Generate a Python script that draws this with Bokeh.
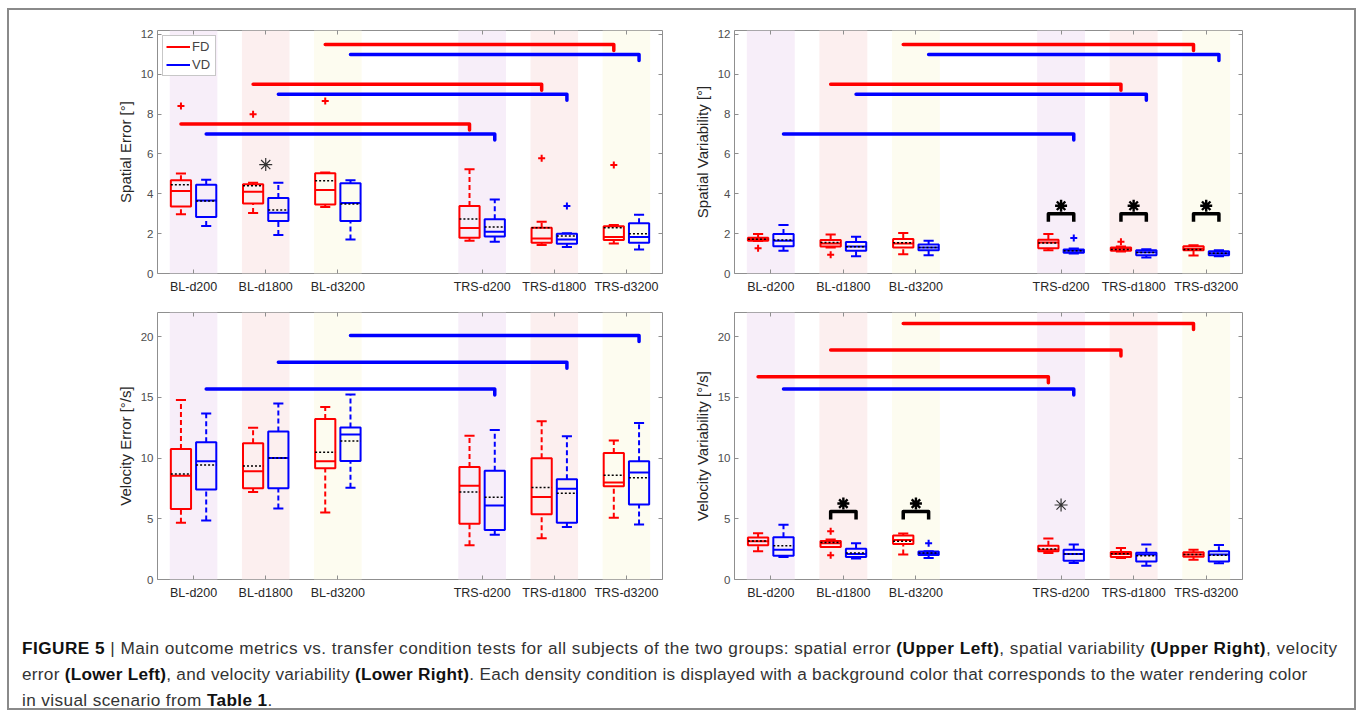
from bokeh.plotting import figure
from bokeh.models import (Range1d, FixedTicker, LinearAxis, Legend, LegendItem, Div)
from bokeh.layouts import row, column
from bokeh.embed import file_html
from bokeh.resources import INLINE

# ---------------- data ----------------
conditions = ["BL-d200", "BL-d1800", "BL-d3200", "TRS-d200", "TRS-d1800", "TRS-d3200"]
groups = ["FD", "VD"]

# per condition: (whisker_low, q1, median, q3, whisker_high, mean)
se_fd = [(2.97, 3.36, 4.14, 4.68, 5.02, 4.46), (3.04, 3.51, 4.11, 4.48, 4.56, 4.41),
         (3.34, 3.47, 4.19, 5.03, 5.07, 4.66), (1.64, 1.80, 2.28, 3.39, 5.23, 2.73),
         (1.43, 1.54, 1.76, 2.30, 2.60, 2.30), (1.51, 1.68, 1.83, 2.37, 2.43, 2.30)]
se_vd = [(2.38, 2.84, 3.67, 4.45, 4.71, 3.64), (1.93, 2.63, 3.05, 3.79, 4.55, 3.19),
         (1.71, 2.63, 3.54, 4.53, 4.68, 3.49), (1.59, 1.86, 2.10, 2.72, 3.72, 2.33),
         (1.33, 1.49, 1.71, 2.00, 2.02, 1.88), (1.21, 1.54, 1.83, 2.52, 2.95, 2.00)]
se_fd_out = [("BL-d200", 8.41), ("BL-d1800", 7.99), ("BL-d3200", 8.66),
             ("TRS-d1800", 5.79), ("TRS-d3200", 5.45)]
se_vd_out = [("TRS-d1800", 3.39)]
se_links = [("BL-d200", "TRS-d200", "FD", 7.5), ("BL-d200", "TRS-d200", "VD", 7.0),
            ("BL-d1800", "TRS-d1800", "FD", 9.5), ("BL-d1800", "TRS-d1800", "VD", 9.0),
            ("BL-d3200", "TRS-d3200", "FD", 11.5), ("BL-d3200", "TRS-d3200", "VD", 11.0)]
se_sig = []
se_star = [("BL-d1800", 5.47)]

sv_fd = [(1.63, 1.65, 1.72, 1.80, 1.98, 1.72), (1.31, 1.36, 1.51, 1.68, 1.96, 1.56),
         (0.97, 1.31, 1.51, 1.73, 2.03, 1.54), (1.17, 1.27, 1.56, 1.69, 1.98, 1.53),
         (1.11, 1.14, 1.24, 1.31, 1.36, 1.21), (0.90, 1.17, 1.24, 1.37, 1.42, 1.21)]
sv_vd = [(1.14, 1.37, 1.64, 1.98, 2.43, 1.68), (0.87, 1.14, 1.36, 1.58, 1.84, 1.34),
         (0.92, 1.17, 1.31, 1.46, 1.64, 1.31), (1.00, 1.04, 1.14, 1.21, 1.26, 1.14),
         (0.80, 0.92, 1.07, 1.17, 1.22, 1.06), (0.87, 0.92, 1.02, 1.12, 1.17, 1.02)]
sv_fd_out = [("BL-d200", 1.27), ("BL-d1800", 0.94), ("TRS-d1800", 1.59)]
sv_vd_out = [("TRS-d200", 1.78)]
sv_links = [("BL-d200", "TRS-d200", "VD", 7.0),
            ("BL-d1800", "TRS-d1800", "FD", 9.5), ("BL-d1800", "TRS-d1800", "VD", 9.0),
            ("BL-d3200", "TRS-d3200", "FD", 11.5), ("BL-d3200", "TRS-d3200", "VD", 11.0)]
sv_sig = [("TRS-d200", 3.0), ("TRS-d1800", 3.0), ("TRS-d3200", 3.0)]
sv_star = []

ve_fd = [(4.67, 5.81, 8.55, 10.76, 14.80, 8.69), (7.22, 7.52, 8.91, 11.23, 12.50, 9.35),
         (5.53, 9.16, 9.74, 13.22, 14.22, 10.48), (2.82, 4.59, 7.72, 9.27, 11.84, 7.22),
         (3.40, 5.37, 6.80, 9.99, 13.03, 7.58), (5.09, 7.69, 7.99, 10.43, 11.45, 8.60)]
ve_vd = [(4.87, 7.41, 9.74, 11.31, 13.67, 9.43), (5.86, 7.52, 10.01, 12.20, 14.50, 10.01),
         (7.55, 9.76, 11.95, 12.53, 15.24, 11.42), (3.68, 4.07, 6.09, 8.96, 12.31, 6.78),
         (4.32, 4.67, 7.47, 8.27, 11.81, 7.11), (4.54, 6.17, 8.82, 9.74, 12.89, 8.38)]
ve_fd_out = []
ve_vd_out = []
ve_links = [("BL-d200", "TRS-d200", "VD", 15.7), ("BL-d1800", "TRS-d1800", "VD", 17.9),
            ("BL-d3200", "TRS-d3200", "VD", 20.1)]
ve_sig = []
ve_star = []

vv_fd = [(2.32, 2.82, 3.15, 3.46, 3.82, 3.18), (2.68, 2.68, 2.99, 3.18, 3.29, 3.04),
         (2.05, 2.93, 3.26, 3.62, 3.79, 3.15), (2.19, 2.32, 2.46, 2.79, 3.37, 2.52),
         (1.77, 1.85, 2.10, 2.27, 2.60, 2.13), (1.63, 1.88, 2.07, 2.24, 2.46, 2.07)]
vv_vd = [(1.85, 1.96, 2.46, 3.49, 4.51, 2.79), (1.74, 1.85, 2.10, 2.54, 2.99, 2.19),
         (1.77, 2.02, 2.16, 2.30, 2.32, 2.19), (1.36, 1.55, 2.10, 2.46, 2.88, 2.10),
         (1.13, 1.49, 2.05, 2.21, 2.88, 1.96), (1.33, 1.49, 2.05, 2.32, 2.85, 1.99)]
vv_fd_out = [("BL-d1800", 3.98), ("BL-d1800", 1.99)]
vv_vd_out = [("BL-d3200", 2.99)]
vv_links = [("BL-d200", "TRS-d200", "FD", 16.7), ("BL-d200", "TRS-d200", "VD", 15.7),
            ("BL-d1800", "TRS-d1800", "FD", 18.9), ("BL-d3200", "TRS-d3200", "FD", 21.1)]
vv_sig = [("BL-d1800", 5.6), ("BL-d3200", 5.6)]
vv_star = [("TRS-d200", 6.14)]

# ---------------- styling ----------------
COL = {"FD": "#ff0000", "VD": "#0000ff"}
OFF = {"FD": -0.175, "VD": 0.175}
BOXW = 0.28
BAND = ["#f7eef9", "#fcefef", "#fdfcf0"]
FONT = "Liberation Sans"
XPOS = {c: i + 1 + (1 if i >= 3 else 0) for i, c in enumerate(conditions)}


def make_panel(ylabel, ymax, yticks, stats, outs, links, sig, stars, legend,
               mbl, fw, mbr, mbt, fh, mbb):
    p = figure(frame_width=fw, frame_height=fh, x_range=Range1d(0.5, 7.5),
               y_range=Range1d(0, ymax), output_backend="svg", toolbar_location=None,
               min_border_left=mbl, min_border_right=mbr, min_border_top=mbt,
               min_border_bottom=mbb)
    p.grid.visible = False
    p.outline_line_color = "#8f8f8f"
    p.outline_line_width = 1
    p.background_fill_color = "white"
    p.border_fill_color = "white"
    xs = [XPOS[c] for c in conditions]
    px_per_y = fh / ymax

    # background bands per density condition
    p.vbar(x=xs, width=0.66, top=ymax, bottom=0,
           fill_color=[BAND[i % 3] for i in range(len(xs))], line_color=None)

    # axes
    for ax in (p.xaxis[0], p.yaxis[0]):
        ax.axis_line_color = None
        ax.major_tick_in = 4
        ax.major_tick_out = 0
        ax.minor_tick_line_color = None
        ax.major_tick_line_color = "#8f8f8f"
        ax.major_label_text_font = FONT
    p.xaxis.ticker = FixedTicker(ticks=xs)
    p.xaxis.major_label_overrides = {x: c for x, c in zip(xs, conditions)}
    p.xaxis.major_label_text_font_size = "12.5px"
    p.xaxis.major_label_text_color = "#262626"
    p.xaxis.major_label_standoff = 6
    p.yaxis.ticker = FixedTicker(ticks=yticks)
    p.yaxis.major_label_text_font_size = "11.5px"
    p.yaxis.major_label_text_color = "#4d4d4d"
    p.yaxis.major_label_standoff = 4
    p.yaxis.axis_label = ylabel
    p.yaxis.axis_label_text_font = FONT
    p.yaxis.axis_label_text_font_style = "normal"
    p.yaxis.axis_label_text_font_size = "15px"
    p.yaxis.axis_label_text_color = "#262626"
    p.yaxis.axis_label_standoff = 4

    top_ax = LinearAxis(ticker=FixedTicker(ticks=xs), major_label_text_font_size="0px",
                        axis_line_color=None, major_tick_in=4, major_tick_out=0,
                        major_tick_line_color="#8f8f8f", minor_tick_line_color=None,
                        major_label_standoff=0)
    right_ax = LinearAxis(ticker=FixedTicker(ticks=yticks), major_label_text_font_size="0px",
                          axis_line_color=None, major_tick_in=4, major_tick_out=0,
                          major_tick_line_color="#8f8f8f", minor_tick_line_color=None,
                          major_label_standoff=0)
    p.add_layout(top_ax, "above")
    p.add_layout(right_ax, "right")

    med_renderers = {}
    for g, st in zip(groups, stats):
        c = COL[g]
        x = [XPOS[cn] + OFF[g] for cn in conditions]
        lo = [s[0] for s in st]
        q1 = [s[1] for s in st]
        md = [s[2] for s in st]
        q3 = [s[3] for s in st]
        hi = [s[4] for s in st]
        mn = [s[5] for s in st]
        # whiskers (dashed)
        p.segment(x0=x, x1=x, y0=q3, y1=hi, line_color=c, line_width=2, line_dash="5 3")
        p.segment(x0=x, x1=x, y0=lo, y1=q1, line_color=c, line_width=2, line_dash="5 3")
        # caps
        p.segment(x0=[v - BOXW / 4 for v in x], x1=[v + BOXW / 4 for v in x], y0=hi, y1=hi,
                  line_color=c, line_width=2)
        p.segment(x0=[v - BOXW / 4 for v in x], x1=[v + BOXW / 4 for v in x], y0=lo, y1=lo,
                  line_color=c, line_width=2)
        # box
        p.vbar(x=x, width=BOXW, bottom=q1, top=q3, fill_color=None, line_color=c,
               line_width=2)
        # median
        r = p.segment(x0=[v - BOXW / 2 for v in x], x1=[v + BOXW / 2 for v in x], y0=md,
                      y1=md, line_color=c, line_width=2)
        med_renderers[g] = r
        # mean
        p.segment(x0=[v - BOXW / 2 for v in x], x1=[v + BOXW / 2 for v in x], y0=mn,
                  y1=mn, line_color="black", line_width=1.5, line_dash="2 2")

    for g, ol in zip(groups, outs):
        if ol:
            p.scatter(x=[XPOS[cn] + OFF[g] for cn, _ in ol], y=[v for _, v in ol],
                      marker="cross", size=7, line_width=2, line_color=COL[g])

    # long comparison brackets
    d = 6 / px_per_y
    for a, b, g, yv in links:
        xa = XPOS[a] + OFF[g]
        xb = XPOS[b] + OFF[g]
        p.line(x=[xa, xb, xb], y=[yv, yv, yv - d], line_color=COL[g], line_width=3.5,
               line_join="round", line_cap="round")

    # black significance brackets
    leg = 8 / px_per_y
    for cn, yv in sig:
        xa = XPOS[cn] + OFF["FD"]
        xb = XPOS[cn] + OFF["VD"]
        p.line(x=[xa, xa, xb, xb], y=[yv - leg, yv, yv, yv - leg], line_color="black",
               line_width=3.5, line_join="round")
    if sig:
        p.scatter(x=[XPOS[cn] for cn, _ in sig], y=[yv + 8 / px_per_y for _, yv in sig],
                  marker="asterisk", size=12, line_width=2.4, line_color="black")
    if stars:
        p.scatter(x=[XPOS[cn] for cn, _ in stars], y=[v for _, v in stars],
                  marker="asterisk", size=13, line_width=1.2, line_color="#333333")

    if legend:
        lg = Legend(items=[LegendItem(label=g, renderers=[med_renderers[g]]) for g in groups],
                    location="top_left", margin=5, padding=3, spacing=3,
                    label_text_font=FONT, label_text_font_size="13px",
                    label_height=13, glyph_height=13, glyph_width=24, label_standoff=2,
                    border_line_color="#8f8f8f", background_fill_alpha=1)
        p.add_layout(lg)
    return p


p1 = make_panel("Spatial Error [°]", 12.2, [0, 2, 4, 6, 8, 10, 12], [se_fd, se_vd],
                [se_fd_out, se_vd_out], se_links, se_sig, se_star, True,
                148, 505, 28, 20, 243, 26)
p2 = make_panel("Spatial Variability [°]", 12.2, [0, 2, 4, 6, 8, 10, 12], [sv_fd, sv_vd],
                [sv_fd_out, sv_vd_out], sv_links, sv_sig, sv_star, False,
                44, 508, 112, 20, 243, 26)
p3 = make_panel("Velocity Error [°/s]", 22, [0, 5, 10, 15, 20], [ve_fd, ve_vd],
                [ve_fd_out, ve_vd_out], ve_links, ve_sig, ve_star, False,
                148, 505, 28, 13, 267, 26)
p4 = make_panel("Velocity Variability [°/s]", 22, [0, 5, 10, 15, 20], [vv_fd, vv_vd],
                [vv_fd_out, vv_vd_out], vv_links, vv_sig, vv_star, False,
                44, 508, 112, 13, 267, 26)

B = 'style="color:#111"'
caption_html = (
    '<div style="padding:30px 0 0 13px; font-family:\'Liberation Sans\', sans-serif; '
    'font-size:17.2px; line-height:26px; white-space:nowrap; color:#333;">'
    f'<span style="letter-spacing:0.47px"><b {B}>FIGURE 5</b> | Main outcome metrics vs. transfer condition tests for all subjects of the two groups: '
    f'spatial error <b {B}>(Upper Left)</b>, spatial variability <b {B}>(Upper Right)</b>, velocity</span><br>'
    f'<span style="letter-spacing:0.27px">error <b {B}>(Lower Left)</b>, and velocity variability <b {B}>(Lower Right)</b>. Each density condition '
    'is displayed with a background color that corresponds to the water rendering color</span><br>'
    f'<span style="letter-spacing:0.38px">in visual scenario from <b {B}>Table 1</b>.</span></div>'
)
cap = Div(text=caption_html, width=1345, height=103, margin=0)

layout = column(row(p1, p2), row(p3, p4), cap, spacing=0,
                styles={"border": "2px solid #8a8a8a", "margin": "8px 0 0 7px"})

open("out.html", "w").write(file_html(layout, INLINE))
